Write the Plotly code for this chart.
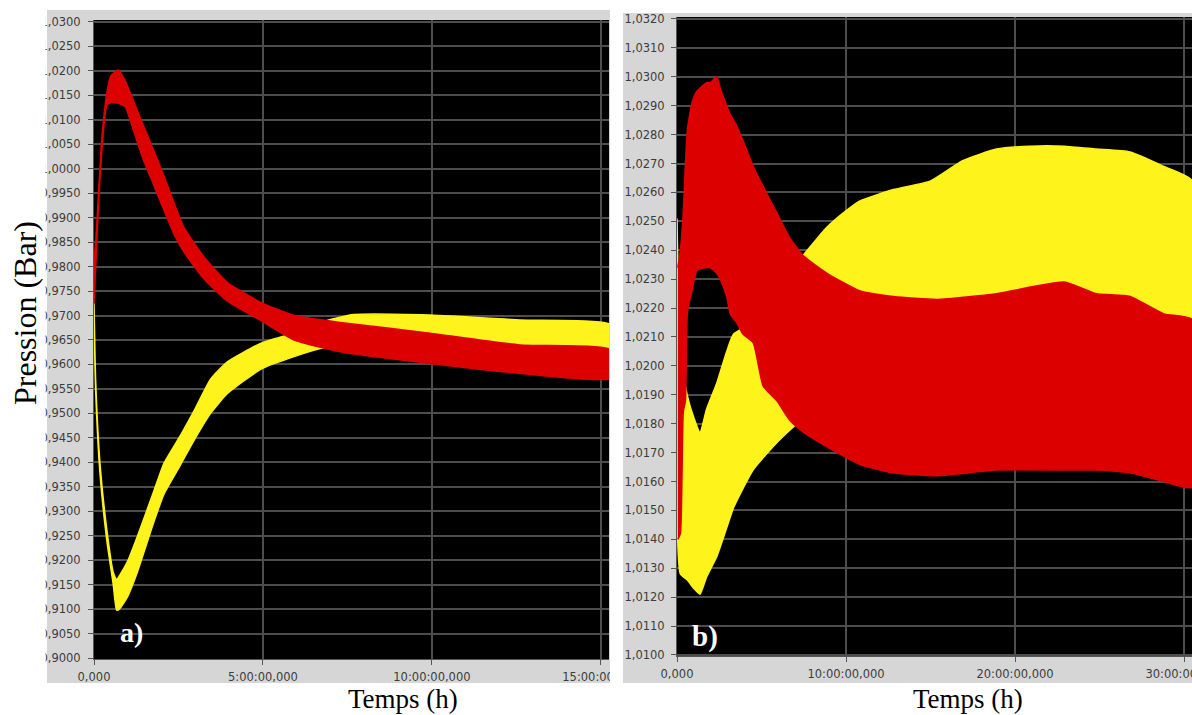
import plotly.graph_objects as go

# ---------------- data ----------------
# Panel a) : time in hours, pressure in bar (upper / lower envelope of the noisy bands)
A_RED_T = [0, 0.05, 0.13, 0.23, 0.38, 0.5, 0.72, 0.92, 1.16, 1.48, 1.78, 2.07, 2.37, 2.66,
           3.25, 3.94, 4.93, 5.92, 7.28, 9.94, 12.6, 15.3]
A_RED_HI = [0.9815, 0.9850, 0.9945, 1.0060, 1.0155, 1.0190, 1.0202, 1.0180, 1.0140, 1.0085,
            1.0035, 0.9985, 0.9930, 0.9880, 0.9820, 0.9768, 0.9727, 0.9700, 0.9686, 0.9664,
            0.9640, 0.9630]
A_RED_LO = [0.9725, 0.9800, 0.9920, 1.0035, 1.0130, 1.0135, 1.0134, 1.0127, 1.0080, 1.0015,
            0.9965, 0.9915, 0.9866, 0.9830, 0.9775, 0.9730, 0.9690, 0.9650, 0.9626, 0.9602,
            0.9582, 0.9572]

A_YEL_T = [0, 0.05, 0.18, 0.38, 0.57, 0.67, 0.75, 0.99, 1.28, 1.78, 2.07, 2.56, 2.96, 3.45,
           3.94, 4.93, 5.92, 6.9, 7.69, 9.94, 12.6, 15.3]
A_YEL_HI = [0.9725, 0.9565, 0.9395, 0.9262, 0.9175, 0.9160, 0.9168, 0.9197, 0.9248, 0.9343,
            0.9398, 0.9455, 0.9505, 0.9570, 0.9605, 0.9643, 0.9664, 0.9690, 0.9702, 0.9701,
            0.9691, 0.9681]
A_YEL_LO = [0.9700, 0.9545, 0.9375, 0.9240, 0.9150, 0.9098, 0.9100, 0.9125, 0.9175, 0.9280,
            0.9335, 0.9395, 0.9445, 0.9500, 0.9540, 0.9590, 0.9616, 0.9636, 0.9642, 0.9640,
            0.9630, 0.9620]

# Panel b)
B_RED_T = [0.05, 0.2, 0.37, 0.5, 0.62, 0.89, 1.18, 1.75, 1.97, 2.35, 2.56, 2.94, 3.15, 3.53,
           3.9, 4.51, 5.1, 5.9, 6.7, 7.5, 8.88, 10.8, 12.8, 15.4, 18.9, 22.9, 24.8, 26.8,
           28.8, 30.5]
B_RED_HI = [1.0234, 1.0240, 1.0253, 1.0270, 1.0282, 1.0291, 1.0295, 1.0298, 1.0298, 1.0300,
            1.0296, 1.0290, 1.0287, 1.0283, 1.0278, 1.0269, 1.0262, 1.0253, 1.0244, 1.0238,
            1.0232, 1.0226, 1.0224, 1.0223, 1.0225, 1.0229, 1.0225, 1.0224, 1.0218, 1.0216]
B_RED_LO = [1.0140, 1.0142, 1.0184, 1.0188, 1.0219, 1.0226, 1.0233, 1.0234, 1.0234, 1.0232,
            1.0230, 1.0224, 1.0218, 1.0215, 1.0211, 1.0208, 1.0193, 1.0188, 1.0181, 1.0177,
            1.0172, 1.0166, 1.0163, 1.0162, 1.0164, 1.0164, 1.0164, 1.0163, 1.0160, 1.0158]

B_YEL_T = [0, 0.2, 0.6, 1.0, 1.36, 1.75, 2.35, 2.94, 3.35, 4.5, 6.0, 7.3, 8.28, 8.88, 9.86,
           10.8, 12.8, 15.0, 16.9, 18.9, 20.9, 22.9, 24.8, 26.8, 28.8, 30.5]
B_YEL_HI = [1.0251, 1.0205, 1.0190, 1.0182, 1.0177, 1.0185, 1.0194, 1.0205, 1.0211, 1.0215,
            1.0225, 1.0237, 1.0244, 1.0248, 1.0253, 1.0257, 1.0261, 1.0264, 1.0271, 1.0275,
            1.0276, 1.0276, 1.0275, 1.0274, 1.0269, 1.0264]
B_YEL_LO = [1.0150, 1.0128, 1.0126, 1.0123, 1.0121, 1.0127, 1.0134, 1.0144, 1.0151, 1.0164,
            1.0174, 1.0181, 1.0184, 1.0186, 1.0188, 1.0190, 1.0190, 1.0190, 1.0190, 1.0190,
            1.0190, 1.0190, 1.0190, 1.0190, 1.0190, 1.0190]

A_XTICKS = [0, 5, 10, 15]
A_XTEXT = ["0,000", "5:00:00,000", "10:00:00,000", "15:00:00,000"]
B_XTICKS = [0, 10, 20, 30]
B_XTEXT = ["0,000", "10:00:00,000", "20:00:00,000", "30:00:00,000"]

RED = "#dc0000"
YELLOW = "#fff31c"
FRAME = "#d6d6d6"
W, H = 1192, 715


def px(x):
    return x / W


def py(y):
    return 1 - y / H


def band(t, hi, lo, color, xa, ya):
    return go.Scatter(
        x=list(t) + list(reversed(t)),
        y=list(hi) + list(reversed(lo)),
        fill="toself", fillcolor=color, mode="lines",
        line=dict(color=color, width=1.5, shape="spline", smoothing=0.5),
        xaxis=xa, yaxis=ya, hoverinfo="skip", showlegend=False,
    )


fig = go.Figure()
fig.add_trace(band(A_YEL_T, A_YEL_HI, A_YEL_LO, YELLOW, "x", "y"))
fig.add_trace(band(A_RED_T, A_RED_HI, A_RED_LO, RED, "x", "y"))
fig.add_trace(band(B_YEL_T, B_YEL_HI, B_YEL_LO, YELLOW, "x2", "y2"))
fig.add_trace(band(B_RED_T, B_RED_HI, B_RED_LO, RED, "x2", "y2"))

tickfont = dict(family="DejaVu Sans", size=11.5, color="#3c3c3c")
grid = dict(showgrid=True, gridcolor="#4d4d4d", gridwidth=1.5, zeroline=False,
            ticks="outside", ticklen=5, tickcolor="#555555", tickwidth=1,
            tickfont=tickfont, showline=True, linecolor="#555555", linewidth=1,
            automargin=False, fixedrange=True, ticklabeloverflow="allow")

fig.update_layout(
    width=W, height=H,
    margin=dict(l=0, r=0, t=0, b=0),
    paper_bgcolor="white", plot_bgcolor="black",
    separators=", ",
    xaxis=dict(domain=[px(94), px(609)], range=[0, 15.24], anchor="y",
               tickvals=A_XTICKS, ticktext=A_XTEXT, ticklabelstandoff=2, **grid),
    yaxis=dict(domain=[py(659), py(20)], range=[0.8998, 1.0304], anchor="x",
               dtick=0.005, tick0=0.9, tickformat=".4f", ticklabelstandoff=5, **grid),
    xaxis2=dict(domain=[px(677), 1.0], range=[0, 30.47], anchor="y2",
                tickvals=B_XTICKS, ticktext=B_XTEXT, ticklabelstandoff=2, **grid),
    yaxis2=dict(domain=[py(656), py(17)], range=[1.009965, 1.032069], anchor="x2",
                dtick=0.001, tick0=1.01, tickformat=".4f", ticklabelstandoff=4, **grid),
)

# gray window frames, black plot panels on top of them (both below the grid),
# and clipping strips above (the picture is a cropped screenshot)
fig.add_shape(type="rect", xref="paper", yref="paper", x0=px(47), x1=px(610),
              y0=py(683), y1=py(10), fillcolor=FRAME, line_width=0, layer="below")
fig.add_shape(type="rect", xref="paper", yref="paper", x0=px(623), x1=px(1192),
              y0=py(683), y1=py(13), fillcolor=FRAME, line_width=0, layer="below")
fig.add_shape(type="rect", xref="x domain", yref="y domain", x0=0, x1=1, y0=0, y1=1,
              fillcolor="black", line_width=0, layer="below")
fig.add_shape(type="rect", xref="x2 domain", yref="y2 domain", x0=0, x1=1, y0=0, y1=1,
              fillcolor="black", line_width=0, layer="below")
fig.add_shape(type="rect", xref="paper", yref="paper", x0=px(610), x1=px(623),
              y0=0, y1=1, fillcolor="white", line_width=0, layer="above")
fig.add_shape(type="rect", xref="paper", yref="paper", x0=px(623), x1=px(655),
              y0=py(683), y1=py(662), fillcolor=FRAME, line_width=0, layer="above")
fig.add_shape(type="rect", xref="paper", yref="paper", x0=0, x1=px(45.5),
              y0=0, y1=1, fillcolor="white", line_width=0, layer="above")

serif = "Liberation Serif"
common = dict(xref="paper", yref="paper", showarrow=False, xanchor="center", yanchor="middle")
fig.add_annotation(text="Pression (Bar)", x=px(25), y=py(313), textangle=-90,
                   font=dict(family=serif, size=32, color="black"), **common)
fig.add_annotation(text="Temps (h)", x=px(403), y=py(699),
                   font=dict(family=serif, size=27, color="black"), **common)
fig.add_annotation(text="Temps (h)", x=px(968), y=py(699),
                   font=dict(family=serif, size=27, color="black"), **common)
fig.add_annotation(text="<b>a)</b>", x=px(131), y=py(632),
                   font=dict(family=serif, size=28, color="white"), **common)
fig.add_annotation(text="<b>b)</b>", x=px(705), y=py(636),
                   font=dict(family=serif, size=29, color="white"), **common)

fig.write_html("out.html", config={"displayModeBar": False},
               post_script="document.body.style.margin='0';")
